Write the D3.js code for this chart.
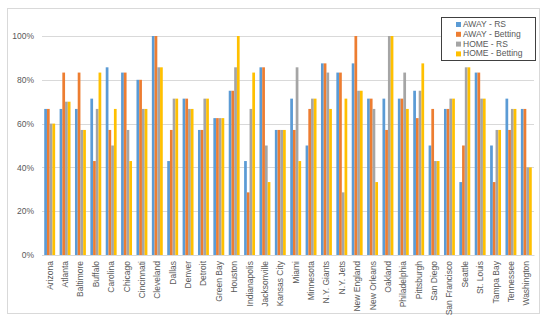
<!DOCTYPE html>
<html>
<head>
<meta charset="utf-8">
<script src="https://cdn.jsdelivr.net/npm/d3@7"></script>
<style>
  body { margin: 0; background: #fff; }
  text { font-family: "Liberation Sans", Arial, sans-serif; }
</style>
</head>
<body>
<div id="chart"></div>
<script>
const teams = ["Arizona", "Atlanta", "Baltimore", "Buffalo", "Carolina", "Chicago", "Cincinnati",
  "Cleveland", "Dallas", "Denver", "Detroit", "Green Bay", "Houston", "Indianapolis", "Jacksonville",
  "Kansas City", "Miami", "Minnesota", "N.Y. Giants", "N.Y. Jets", "New England", "New Orleans",
  "Oakland", "Philadelphia", "Pittsburgh", "San Diego", "San Francisco", "Seattle", "St. Louis",
  "Tampa Bay", "Tennessee", "Washington"];

const seriesNames = ["AWAY - RS", "AWAY - Betting", "HOME - RS", "HOME - Betting"];
const colors = ["#5B9BD5", "#ED7D31", "#A5A5A5", "#FFC000"];

const awayRS = [0.667, 0.667, 0.667, 0.714, 0.857, 0.833, 0.8, 1, 0.429, 0.714, 0.571, 0.625, 0.75, 0.429, 0.857,
  0.571, 0.714, 0.5, 0.875, 0.833, 0.875, 0.714, 0.714, 0.714, 0.75, 0.5, 0.667, 0.333, 0.833, 0.5, 0.714, 0.667];
const awayBet = [0.667, 0.833, 0.833, 0.429, 0.571, 0.833, 0.8, 1, 0.571, 0.714, 0.571, 0.625, 0.75, 0.286, 0.857,
  0.571, 0.571, 0.667, 0.875, 0.833, 1, 0.714, 0.571, 0.714, 0.625, 0.667, 0.667, 0.5, 0.833, 0.333, 0.571, 0.667];
const homeRS = [0.6, 0.7, 0.571, 0.667, 0.5, 0.571, 0.667, 0.857, 0.714, 0.667, 0.714, 0.625, 0.857, 0.667, 0.5,
  0.571, 0.857, 0.714, 0.833, 0.286, 0.75, 0.667, 1, 0.833, 0.75, 0.429, 0.714, 0.857, 0.714, 0.571, 0.667, 0.4];
const homeBet = [0.6, 0.7, 0.571, 0.833, 0.667, 0.429, 0.667, 0.857, 0.714, 0.667, 0.714, 0.625, 1, 0.833, 0.333,
  0.571, 0.429, 0.714, 0.667, 0.714, 0.75, 0.333, 1, 0.667, 0.875, 0.429, 0.714, 0.857, 0.714, 0.571, 0.667, 0.4];

const yTicks = [0, 0.2, 0.4, 0.6, 0.8, 1];

const width = 550, height = 325;
const margin = { top: 36, right: 16, bottom: 70, left: 42 };

const svg = d3.select("#chart")
  .append("svg")
  .attr("width", width)
  .attr("height", height);

// chart area border
svg.append("rect")
  .attr("x", 7.5).attr("y", 8.5)
  .attr("width", 532).attr("height", 305)
  .attr("fill", "#fff")
  .attr("stroke", "#D9D9D9");

const x = d3.scaleBand()
  .domain(teams)
  .range([margin.left, width - margin.right])
  .paddingInner(0.29)
  .paddingOuter(0.145);

const xs = d3.scaleBand()
  .domain(seriesNames)
  .range([0, x.bandwidth()]);

const y = d3.scaleLinear()
  .domain([0, 1])
  .range([height - margin.bottom, margin.top]);

// gridlines
svg.append("g")
  .selectAll("line")
  .data(yTicks)
  .join("line")
  .attr("x1", margin.left)
  .attr("x2", width - margin.right)
  .attr("y1", d => Math.round(y(d)) + 0.5)
  .attr("y2", d => Math.round(y(d)) + 0.5)
  .attr("stroke", "#D9D9D9");

// y axis labels
const yAxis = svg.append("g")
  .attr("transform", `translate(${margin.left},0)`)
  .call(d3.axisLeft(y).tickValues(yTicks).tickFormat(d3.format(".0%")).tickSize(0).tickPadding(8));
yAxis.select(".domain").remove();
yAxis.selectAll("text").attr("fill", "#595959").attr("font-size", "8.5px")
  .style("font-family", "'Liberation Sans', Arial, sans-serif");

// bars
const allSeries = [awayRS, awayBet, homeRS, homeBet];
const rows = teams.map((t, i) => ({ team: t, values: allSeries.map((s, k) => ({ key: seriesNames[k], v: s[i], c: colors[k] })) }));

const groups = svg.append("g")
  .selectAll("g")
  .data(rows)
  .join("g")
  .attr("transform", d => `translate(${x(d.team)},0)`);

groups.selectAll("rect")
  .data(d => d.values)
  .join("rect")
  .attr("x", d => xs(d.key))
  .attr("y", d => y(d.v))
  .attr("width", xs.bandwidth())
  .attr("height", d => y(0) - y(d.v))
  .attr("fill", d => d.c);

// x axis labels
const xAxis = svg.append("g")
  .attr("transform", `translate(0,${y(0)})`)
  .call(d3.axisBottom(x).tickSize(0).tickPadding(0));
xAxis.select(".domain").attr("stroke", "#D9D9D9");
xAxis.selectAll("text")
  .attr("fill", "#595959")
  .attr("font-size", "8.5px")
  .style("font-family", "'Liberation Sans', Arial, sans-serif")
  .attr("text-anchor", "end")
  .attr("dy", "0.35em")
  .attr("transform", "translate(0,6) rotate(-90)")
  .attr("x", 0).attr("y", 0);

// legend
const legend = svg.append("g");
legend.append("rect")
  .attr("x", 441.5).attr("y", 17.5)
  .attr("width", 94).attr("height", 43)
  .attr("fill", "#fff")
  .attr("stroke", "#404040");

const items = legend.selectAll("g")
  .data(seriesNames)
  .join("g")
  .attr("transform", (d, i) => `translate(456,${22 + i * 9.8})`);
items.append("rect")
  .attr("width", 5).attr("height", 5)
  .attr("fill", (d, i) => colors[i]);
items.append("text")
  .attr("x", 7).attr("y", 5)
  .attr("font-size", "8.5px")
  .attr("fill", "#595959")
  .text(d => d);
</script>
</body>
</html>
